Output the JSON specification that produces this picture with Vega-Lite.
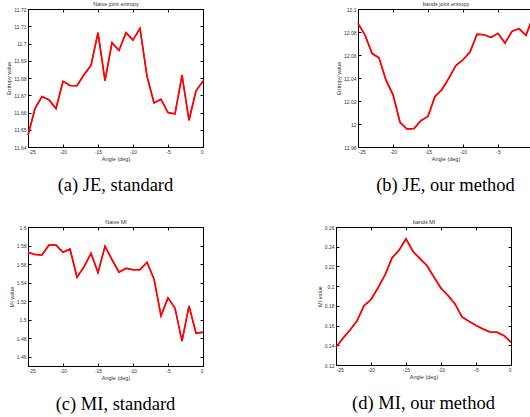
{
  "$schema": "https://vega.github.io/schema/vega-lite/v6.json",
  "background": "white",
  "padding": {"left": 6, "top": 1, "right": 0, "bottom": 0},
  "config": {
    "view": {"stroke": "black", "strokeWidth": 1},
    "axis": {"grid": false, "domain": false, "tickSize": -3, "tickColor": "black", "labelFont": "Liberation Sans", "labelFontSize": 5, "labelColor": "#333", "titleFont": "Liberation Sans", "titleFontSize": 5.5, "titleFontWeight": "normal", "titleColor": "#333", "labelPadding": 5, "titlePadding": 2},
    "title": {"font": "Liberation Serif", "fontSize": 18.5, "fontWeight": "normal", "orient": "bottom", "color": "black", "offset": 14},
    "line": {"color": "red", "strokeWidth": 1.5}
  },
  "spacing": 24,
  "vconcat": [
    {
      "spacing": 128,
      "hconcat": [
        {
          "width": 175, "height": 138,
          "title": {"text": "(a) JE, standard"},
          "data": {"values": [
            {"angle": -25, "value": 11.6468}, {"angle": -24, "value": 11.6623}, {"angle": -23, "value": 11.6693}, {"angle": -22, "value": 11.6673},
            {"angle": -21, "value": 11.6623}, {"angle": -20, "value": 11.678}, {"angle": -19, "value": 11.6757}, {"angle": -18, "value": 11.6755},
            {"angle": -17, "value": 11.6819}, {"angle": -16, "value": 11.6873}, {"angle": -15, "value": 11.7063}, {"angle": -14, "value": 11.6784},
            {"angle": -13, "value": 11.7005}, {"angle": -12, "value": 11.696}, {"angle": -11, "value": 11.7063}, {"angle": -10, "value": 11.702},
            {"angle": -9, "value": 11.7088}, {"angle": -8, "value": 11.6811}, {"angle": -7, "value": 11.6656}, {"angle": -6, "value": 11.6677},
            {"angle": -5, "value": 11.66}, {"angle": -4, "value": 11.6592}, {"angle": -3, "value": 11.6817}, {"angle": -2, "value": 11.6555},
            {"angle": -1, "value": 11.6726}, {"angle": 0, "value": 11.6782}
          ]},
          "layer": [
            {"mark": {"type": "line"}, "encoding": {
              "x": {"field": "angle", "type": "quantitative", "scale": {"domain": [-25, 0], "nice": false}, "axis": {"title": "Angle (deg)", "orient": "bottom", "values": [-25, -20, -15, -10, -5, 0], "labelExpr": "datum.value + ''"}},
              "y": {"field": "value", "type": "quantitative", "scale": {"domain": [11.64, 11.72], "nice": false, "zero": false}, "axis": {"title": "Entropy value", "orient": "left", "values": [11.64, 11.65, 11.66, 11.67, 11.68, 11.69, 11.7, 11.71, 11.72], "format": ".4~g"}}
            }},
            {"mark": {"type": "line"}, "encoding": {
              "x": {"field": "angle", "type": "quantitative", "axis": {"title": "Naive joint entropy", "orient": "top", "labels": false, "values": [-25, -20, -15, -10, -5, 0]}},
              "y": {"field": "value", "type": "quantitative", "axis": {"title": null, "orient": "right", "labels": false, "values": [11.64, 11.65, 11.66, 11.67, 11.68, 11.69, 11.7, 11.71, 11.72]}}
            }}
          ],
          "resolve": {"axis": {"x": "independent", "y": "independent"}}
        },
        {
          "width": 175, "height": 138,
          "title": {"text": "(b) JE, our method"},
          "data": {"values": [
            {"angle": -25, "value": 12.0876}, {"angle": -24, "value": 12.0774}, {"angle": -23, "value": 12.0614}, {"angle": -22, "value": 12.0576},
            {"angle": -21, "value": 12.0381}, {"angle": -20, "value": 12.0256}, {"angle": -19, "value": 12.0015}, {"angle": -18, "value": 11.9957},
            {"angle": -17, "value": 11.996}, {"angle": -16, "value": 12.003}, {"angle": -15, "value": 12.0067}, {"angle": -14, "value": 12.0239},
            {"angle": -13, "value": 12.03}, {"angle": -12, "value": 12.0402}, {"angle": -11, "value": 12.0509}, {"angle": -10, "value": 12.0559},
            {"angle": -9, "value": 12.0626}, {"angle": -8, "value": 12.078}, {"angle": -7, "value": 12.0777}, {"angle": -6, "value": 12.0753},
            {"angle": -5, "value": 12.0788}, {"angle": -4, "value": 12.0704}, {"angle": -3, "value": 12.0806}, {"angle": -2, "value": 12.0829},
            {"angle": -1, "value": 12.0771}, {"angle": 0, "value": 12.0934}
          ]},
          "layer": [
            {"mark": {"type": "line"}, "encoding": {
              "x": {"field": "angle", "type": "quantitative", "scale": {"domain": [-25, 0], "nice": false}, "axis": {"title": "Angle (deg)", "orient": "bottom", "values": [-25, -20, -15, -10, -5, 0], "labelExpr": "datum.value + ''"}},
              "y": {"field": "value", "type": "quantitative", "scale": {"domain": [11.98, 12.1], "nice": false, "zero": false}, "axis": {"title": "Entropy value", "orient": "left", "values": [11.98, 12, 12.02, 12.04, 12.06, 12.08, 12.1], "format": ".4~g"}}
            }},
            {"mark": {"type": "line"}, "encoding": {
              "x": {"field": "angle", "type": "quantitative", "axis": {"title": "bands joint entropy", "orient": "top", "labels": false, "values": [-25, -20, -15, -10, -5, 0]}},
              "y": {"field": "value", "type": "quantitative", "axis": {"title": null, "orient": "right", "labels": false, "values": [11.98, 12, 12.02, 12.04, 12.06, 12.08, 12.1]}}
            }}
          ],
          "resolve": {"axis": {"x": "independent", "y": "independent"}}
        }
      ]
    },
    {
      "spacing": 109,
      "hconcat": [
        {
          "width": 175, "height": 139,
          "title": {"text": "(c) MI, standard"},
          "data": {"values": [
            {"angle": -25, "value": 1.5727}, {"angle": -24, "value": 1.5702}, {"angle": -23, "value": 1.5698}, {"angle": -22, "value": 1.5806},
            {"angle": -21, "value": 1.5806}, {"angle": -20, "value": 1.5727}, {"angle": -19, "value": 1.5763}, {"angle": -18, "value": 1.5458},
            {"angle": -17, "value": 1.5569}, {"angle": -16, "value": 1.5716}, {"angle": -15, "value": 1.5508}, {"angle": -14, "value": 1.5792},
            {"angle": -13, "value": 1.5648}, {"angle": -12, "value": 1.5512}, {"angle": -11, "value": 1.5555}, {"angle": -10, "value": 1.554},
            {"angle": -9, "value": 1.554}, {"angle": -8, "value": 1.5619}, {"angle": -7, "value": 1.544}, {"angle": -6, "value": 1.5041},
            {"angle": -5, "value": 1.5235}, {"angle": -4, "value": 1.5124}, {"angle": -3, "value": 1.4768}, {"angle": -2, "value": 1.5149},
            {"angle": -1, "value": 1.4855}, {"angle": 0, "value": 1.4865}
          ]},
          "layer": [
            {"mark": {"type": "line"}, "encoding": {
              "x": {"field": "angle", "type": "quantitative", "scale": {"domain": [-25, 0], "nice": false}, "axis": {"title": "Angle (deg)", "orient": "bottom", "values": [-25, -20, -15, -10, -5, 0], "labelExpr": "datum.value + ''"}},
              "y": {"field": "value", "type": "quantitative", "scale": {"domain": [1.45, 1.6], "nice": false, "zero": false}, "axis": {"title": "MI value", "orient": "left", "values": [1.46, 1.48, 1.5, 1.52, 1.54, 1.56, 1.58, 1.6], "format": ".4~g"}}
            }},
            {"mark": {"type": "line"}, "encoding": {
              "x": {"field": "angle", "type": "quantitative", "axis": {"title": "Naive MI", "orient": "top", "labels": false, "values": [-25, -20, -15, -10, -5, 0]}},
              "y": {"field": "value", "type": "quantitative", "axis": {"title": null, "orient": "right", "labels": false, "values": [1.46, 1.48, 1.5, 1.52, 1.54, 1.56, 1.58, 1.6]}}
            }}
          ],
          "resolve": {"axis": {"x": "independent", "y": "independent"}}
        },
        {
          "width": 175, "height": 138,
          "title": {"text": "(d) MI, our method"},
          "data": {"values": [
            {"angle": -25, "value": 0.1381}, {"angle": -24, "value": 0.1471}, {"angle": -23, "value": 0.1555}, {"angle": -22, "value": 0.1648},
            {"angle": -21, "value": 0.1802}, {"angle": -20, "value": 0.1865}, {"angle": -19, "value": 0.1982}, {"angle": -18, "value": 0.2113},
            {"angle": -17, "value": 0.2286}, {"angle": -16, "value": 0.2363}, {"angle": -15, "value": 0.248}, {"angle": -14, "value": 0.235},
            {"angle": -13, "value": 0.2279}, {"angle": -12, "value": 0.2206}, {"angle": -11, "value": 0.2092}, {"angle": -10, "value": 0.1979},
            {"angle": -9, "value": 0.1905}, {"angle": -8, "value": 0.1819}, {"angle": -7, "value": 0.1688}, {"angle": -6, "value": 0.1642},
            {"angle": -5, "value": 0.1602}, {"angle": -4, "value": 0.1565}, {"angle": -3, "value": 0.1535}, {"angle": -2, "value": 0.1532},
            {"angle": -1, "value": 0.1498}, {"angle": 0, "value": 0.1431}
          ]},
          "layer": [
            {"mark": {"type": "line"}, "encoding": {
              "x": {"field": "angle", "type": "quantitative", "scale": {"domain": [-25, 0], "nice": false}, "axis": {"title": "Angle (deg)", "orient": "bottom", "values": [-25, -20, -15, -10, -5, 0], "labelExpr": "datum.value + ''"}},
              "y": {"field": "value", "type": "quantitative", "scale": {"domain": [0.12, 0.26], "nice": false, "zero": false}, "axis": {"title": "MI value", "orient": "left", "values": [0.12, 0.14, 0.16, 0.18, 0.2, 0.22, 0.24, 0.26], "format": ".4~g"}}
            }},
            {"mark": {"type": "line"}, "encoding": {
              "x": {"field": "angle", "type": "quantitative", "axis": {"title": "bands MI", "orient": "top", "labels": false, "values": [-25, -20, -15, -10, -5, 0]}},
              "y": {"field": "value", "type": "quantitative", "axis": {"title": null, "orient": "right", "labels": false, "values": [0.12, 0.14, 0.16, 0.18, 0.2, 0.22, 0.24, 0.26]}}
            }}
          ],
          "resolve": {"axis": {"x": "independent", "y": "independent"}}
        }
      ]
    }
  ]
}
